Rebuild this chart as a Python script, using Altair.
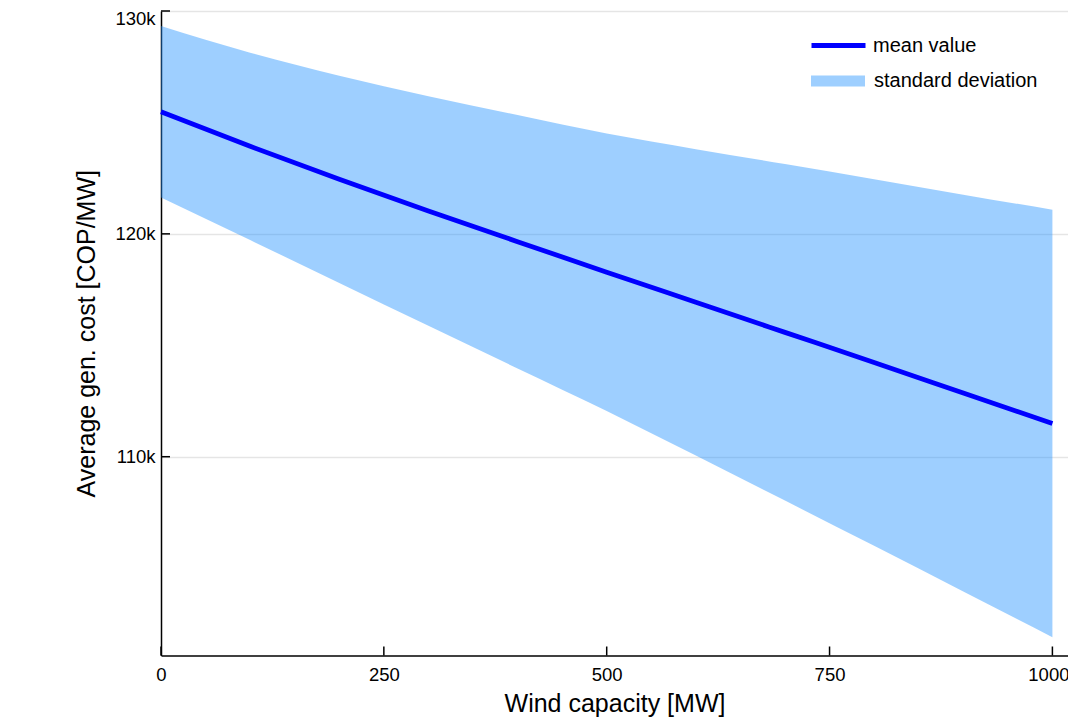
import altair as alt
import pandas as pd

# ---- data ----
capacity = [0, 100, 200, 300, 400, 500, 600, 700, 800, 900, 1000]
mean_cost = [125480, 123930, 122450, 121030, 119650, 118280, 116930, 115580, 114230, 112860, 111490]
upper_cost = [129330, 128130, 127100, 126180, 125330, 124500, 123800, 123130, 122450, 121760, 121080]
lower_cost = [121630, 119720, 117800, 115880, 113960, 112050, 110050, 108030, 106000, 103950, 101900]

x_ticks = [0, 250, 500, 750, 1000]
y_ticks = [110000, 120000, 130000]
x_domain = [0, 1017.5]
y_domain = [101080, 130000]

df = pd.DataFrame({
    "capacity": capacity,
    "mean": mean_cost,
    "lower": lower_cost,
    "upper": upper_cost,
    "series": "mean value",
    "band": "standard deviation",
})
xt = pd.DataFrame({"tick": x_ticks})
yt = pd.DataFrame({"tick": y_ticks})

W, H = 907, 644.5
FONT = "Liberation Sans"

x_scale = alt.Scale(domain=x_domain, nice=False, zero=False)
y_scale = alt.Scale(domain=y_domain, nice=False, zero=False)

x_axis = alt.Axis(values=x_ticks, title="Wind capacity [MW]", grid=False, format="d",
                  labelPadding=10, titlePadding=7, labelFlush=False,
                  labelOffset=alt.condition("datum.value == 1000", alt.value(-4), alt.value(0)))
y_axis = alt.Axis(values=y_ticks, title="Average gen. cost [COP/MW]", grid=True,
                  format="~s", labelPadding=6, titlePadding=15, labelFlush=False,
                  labelOffset=alt.condition("datum.value == 130000", alt.value(7), alt.value(0)),
                  gridColor="#000000", gridOpacity=0.1, gridWidth=1.5)

band = alt.Chart(df).mark_area(opacity=0.43, interpolate="monotone").encode(
    x=alt.X("capacity:Q", scale=x_scale, axis=x_axis),
    y=alt.Y("lower:Q", scale=y_scale, axis=y_axis),
    y2="upper:Q",
    fill=alt.Fill("band:N",
                  scale=alt.Scale(domain=["standard deviation"], range=["#1e90ff"]),
                  legend=alt.Legend(title=None, orient="none", legendX=650, legendY=43,
                                    symbolType="M-1,-0.2H1V0.2H-1Z", symbolSize=2916,
                                    symbolOpacity=0.43, symbolStrokeWidth=0,
                                    labelOffset=9, labelFontSize=20, labelFont=FONT,
                                    labelLimit=400,
                                    labelColor="#000000", padding=0)),
)

line = alt.Chart(df).mark_line(strokeWidth=4.8, interpolate="monotone").encode(
    x=alt.X("capacity:Q", scale=x_scale, axis=x_axis),
    y=alt.Y("mean:Q", scale=y_scale, axis=y_axis),
    stroke=alt.Stroke("series:N",
                      scale=alt.Scale(domain=["mean value"], range=["#0000ff"]),
                      legend=alt.Legend(title=None, orient="none", legendX=648, legendY=5,
                                        symbolType="stroke", symbolSize=2916,
                                        symbolStrokeWidth=5,
                                        labelOffset=5, labelFontSize=20, labelFont=FONT,
                                        labelLimit=400,
                                        labelColor="#000000", padding=0)),
)

x_tick_marks = alt.Chart(xt).mark_rule(color="black", strokeWidth=1.5).encode(
    x=alt.X("tick:Q", scale=x_scale, axis=x_axis),
    y=alt.value(H),
    y2=alt.value(H - 9),
)
y_tick_marks = alt.Chart(yt).mark_rule(color="black", strokeWidth=1.5).encode(
    y=alt.Y("tick:Q", scale=y_scale, axis=y_axis),
    x=alt.value(0),
    x2=alt.value(9),
)

chart = alt.layer(band, line, x_tick_marks, y_tick_marks).resolve_legend(
    stroke="independent", fill="independent"
).properties(
    width=W, height=H,
    padding={"left": 153, "top": 3, "right": 0, "bottom": 62},
    autosize=alt.AutoSizeParams(type="none"),
).configure_view(stroke=None).configure_axis(
    labelFont=FONT, labelFontSize=18.5, labelColor="#000000",
    titleFont=FONT, titleFontSize=25, titleColor="#000000", titleFontWeight="normal",
    domainColor="#000000", domainWidth=1.5, ticks=False, labelOverlap=False,
)

chart.save("out.html", embed_options={"renderer": "svg", "actions": False})
